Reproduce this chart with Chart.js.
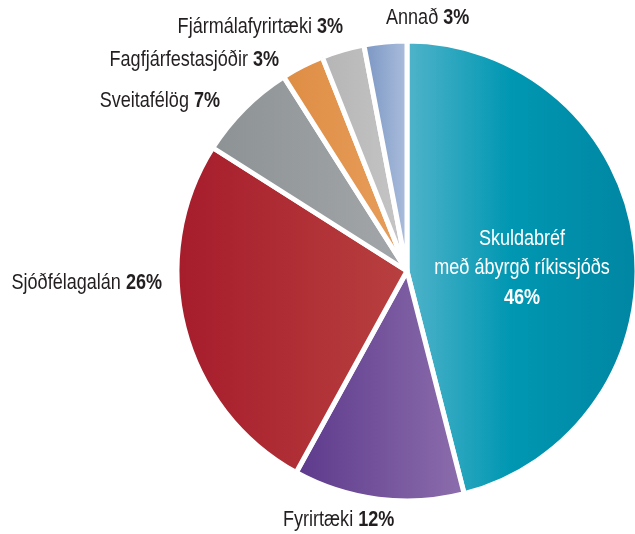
<!DOCTYPE html>
<html>
<head>
<meta charset="utf-8">
<script src="https://cdn.jsdelivr.net/npm/chart.js@4"></script>
<style>
  html, body { margin: 0; padding: 0; background: #fff; }
  #wrap { width: 635px; height: 534px; position: relative; }
</style>
</head>
<body>
<div id="wrap"><canvas id="myChart"></canvas></div>
<script>
const categories = ["Skuldabréf með ábyrgð ríkissjóðs", "Fyrirtæki", "Sjóðfélagalán", "Sveitafélög", "Fagfjárfestasjóðir", "Fjármálafyrirtæki", "Annað"]
const values = [46, 12, 26, 7, 3, 3, 3]
const colorLeft = ["#4fb3ca", "#5d3a8c", "#a61c2b", "#8d9295", "#df8d44", "#b5b5b5", "#7a96c3"]
const colorRight = ["#0086a2", "#8c6dac", "#b8403f", "#a3a7a9", "#e79f5c", "#c6c6c6", "#aabddc"]

const FONT = '"Liberation Sans", Arial, sans-serif'
const SX = 0.82 // police condensée simulée
const TXT = "#231f20"
const PIE_R = 230

// label anchors (text only)
const labelPos = [
  null,
  { x: 283, y: 520, align: "left" },
  { x: 162, y: 283, align: "right" },
  { x: 220, y: 101, align: "right" },
  { x: 279, y: 60, align: "right" },
  { x: 343, y: 27, align: "right" },
  { x: 386, y: 18, align: "left" },
]

// gradient horizontal sur chaque part
function sliceGradient(context) {
  const chart = context.chart
  const i = context.dataIndex
  const area = chart.chartArea
  if (!area) return colorLeft[i]
  const cx = (area.left + area.right) / 2
  const r = PIE_R
  const total = values.reduce((t, v) => t + v, 0)
  let start = 0
  for (let k = 0; k < i; k++) start += values[k]
  let a0 = -Math.PI / 2 + start / total * 2 * Math.PI
  let a1 = a0 + values[i] / total * 2 * Math.PI
  let xs = [cx]
  for (let s = 0; s <= 40; s++) {
    let a = a0 + (a1 - a0) * s / 40
    xs.push(cx + r * Math.cos(a))
  }
  const x0 = Math.min(...xs), x1 = Math.max(...xs)
  const g = chart.ctx.createLinearGradient(x0, 0, x1, 0)
  g.addColorStop(0, colorLeft[i])
  if (i == 0) g.addColorStop(0.45, "#0097b2")
  g.addColorStop(1, colorRight[i])
  return g
}

function textW(ctx, txt, bold) {
  ctx.font = (bold ? "bold " : "") + "22px " + FONT
  return ctx.measureText(txt).width * SX
}

function drawText(ctx, txt, x, y, bold) {
  ctx.save()
  ctx.font = (bold ? "bold " : "") + "22px " + FONT
  ctx.textAlign = "left"
  ctx.textBaseline = "middle"
  ctx.translate(x, y)
  ctx.scale(SX, 1)
  ctx.fillText(txt, 0, 0)
  ctx.restore()
}

function drawRich(ctx, x, y, align, normal, bold) {
  const w1 = textW(ctx, normal + " ", false)
  const w2 = textW(ctx, bold, true)
  let left = x
  if (align == "right") left = x - w1 - w2
  if (align == "center") left = x - (w1 + w2) / 2
  drawText(ctx, normal + " ", left, y, false)
  drawText(ctx, bold, left + w1, y, true)
}

const labelsPlugin = {
  id: "labelsPlugin",
  afterDraw(chart) {
    const ctx = chart.ctx
    ctx.save()
    ctx.fillStyle = TXT
    for (let i = 1; i < categories.length; i++) {
      const p = labelPos[i]
      drawRich(ctx, p.x, p.y, p.align, categories[i], values[i] + "%")
    }
    // texte dans la grande part
    ctx.fillStyle = "#ffffff"
    const lines = ["Skuldabréf", "með ábyrgð ríkissjóðs"]
    lines.forEach((l, j) => {
      drawText(ctx, l, 522 - textW(ctx, l, false) / 2, 239 + j * 29, false)
    })
    const pct = values[0] + "%"
    drawText(ctx, pct, 522 - textW(ctx, pct, true) / 2, 298, true)
    ctx.restore()
  }
}

const ctx = document.getElementById("myChart")
new Chart(ctx, {
  type: "pie",
  data: {
    labels: categories,
    datasets: [{
      data: values,
      backgroundColor: sliceGradient,
      borderColor: "#ffffff",
      borderWidth: 5,
      hoverOffset: 0,
      radius: PIE_R,
    }]
  },
  options: {
    responsive: true,
    maintainAspectRatio: false,
    animation: false,
    layout: { padding: { left: 179, right: 0, top: 43, bottom: 35 } },
    plugins: {
      legend: { display: false },
      tooltip: { enabled: false },
    },
  },
  plugins: [labelsPlugin]
})
</script>
</body>
</html>
